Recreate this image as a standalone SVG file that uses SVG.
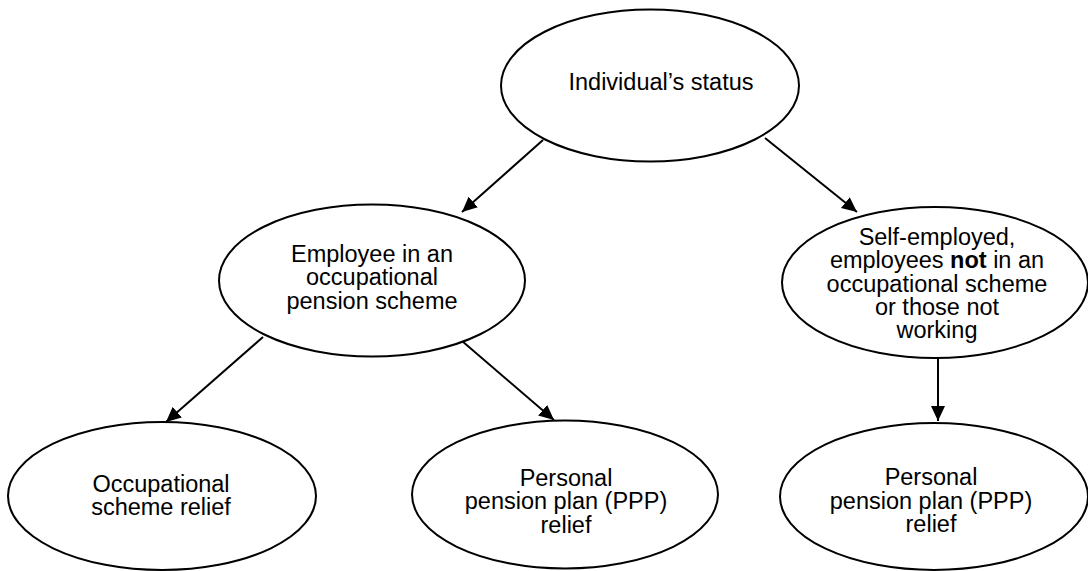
<svg xmlns="http://www.w3.org/2000/svg" width="1088" height="571" viewBox="0 0 1088 571">
<style>
.node ellipse{fill:#fff;stroke:#000;stroke-width:2}
.node text{font-family:"Liberation Sans",Arial,Helvetica,sans-serif;font-size:23.5px;fill:#000;text-anchor:middle}
.edge{stroke:#000;stroke-width:2;fill:none;marker-end:url(#arr)}
</style>
<defs>
<marker id="arr" markerUnits="userSpaceOnUse" markerWidth="16" markerHeight="16" refX="15" refY="7.5" orient="auto">
<path d="M0,0.5 L15,7.5 L0,14.5 z" fill="#000"/>
</marker>
</defs>
<rect width="1088" height="571" fill="#fff"/>
<g id="connectors">
<line class="edge" x1="543" y1="140" x2="462" y2="212"/>
<line class="edge" x1="765" y1="138" x2="857" y2="212"/>
<line class="edge" x1="263" y1="337" x2="166" y2="422"/>
<line class="edge" x1="462" y1="341" x2="554" y2="420"/>
<line class="edge" x1="938" y1="358" x2="938" y2="421"/>
</g>
<g id="n1" class="node">
<ellipse cx="650" cy="85.5" rx="149" ry="76"/>
<text x="661" y="90">Individual’s status</text>
</g>
<g id="n2" class="node">
<ellipse cx="372" cy="280.5" rx="153" ry="76"/>
<text x="372" y="261.5">Employee in an</text>
<text x="372" y="285">occupational</text>
<text x="372" y="308.5">pension scheme</text>
</g>
<g id="n3" class="node">
<ellipse cx="935" cy="282.5" rx="153" ry="75.5"/>
<text x="937" y="245">Self-employed,</text>
<text x="937" y="268.3">employees <tspan font-weight="bold">not</tspan> in an</text>
<text x="937" y="291.7">occupational scheme</text>
<text x="937" y="315">or those not</text>
<text x="937" y="338.3">working</text>
</g>
<g id="n4" class="node">
<ellipse cx="162" cy="496" rx="154" ry="74"/>
<text x="161" y="491.7">Occupational</text>
<text x="161" y="514.5">scheme relief</text>
</g>
<g id="n5" class="node">
<ellipse cx="565" cy="494.5" rx="153" ry="74"/>
<text x="566" y="485.5">Personal</text>
<text x="566" y="509">pension plan (PPP)</text>
<text x="566" y="532.5">relief</text>
</g>
<g id="n6" class="node">
<ellipse cx="934" cy="496.5" rx="154" ry="73.5"/>
<text x="931" y="485">Personal</text>
<text x="931" y="508.5">pension plan (PPP)</text>
<text x="931" y="532">relief</text>
</g>
</svg>
